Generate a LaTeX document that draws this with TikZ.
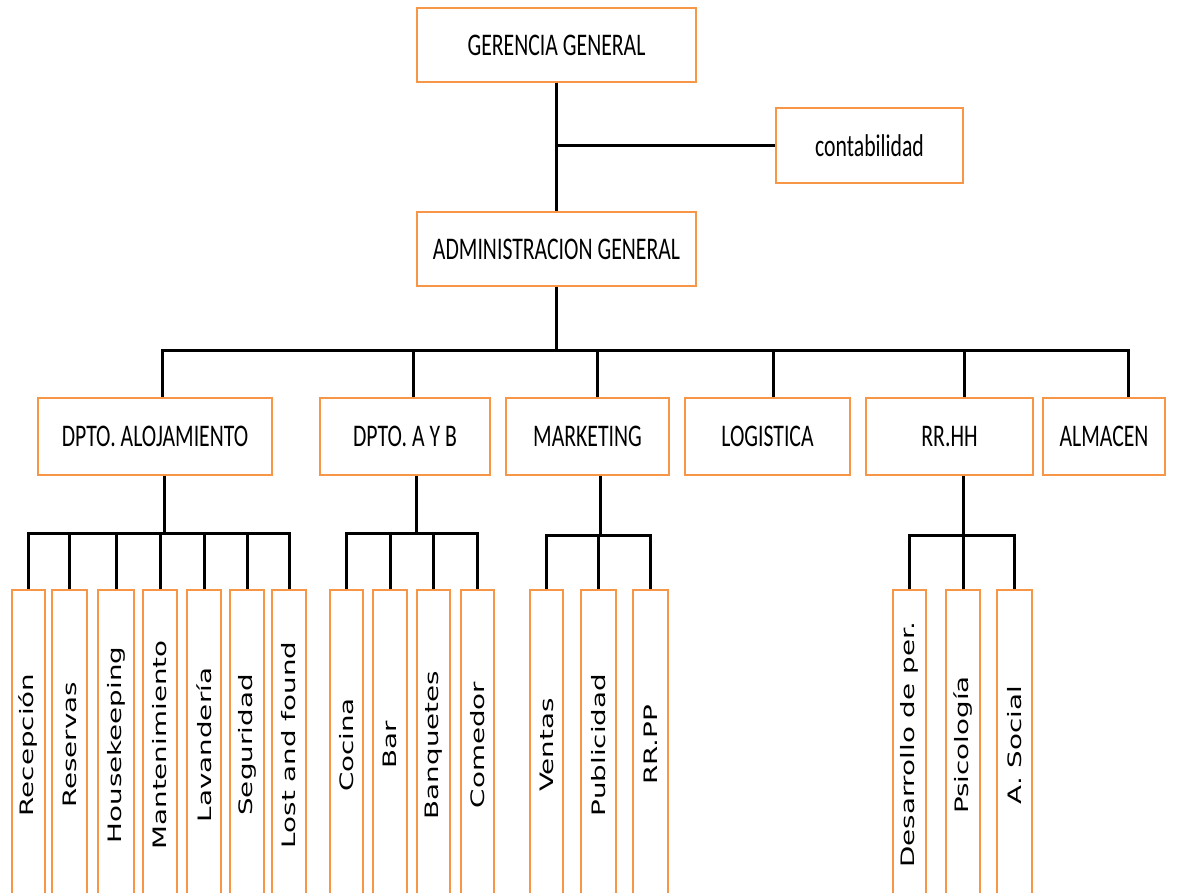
\documentclass[tikz,border=0pt]{standalone}
\usepackage{fontspec}
\newfontfamily\boxfont[FakeStretch=0.69]{Carlito}
\newfontfamily\leaffont[FakeStretch=1.5]{DejaVu Sans}
\usetikzlibrary{calc}
\definecolor{org}{HTML}{F79646}
\begin{document}
\begin{tikzpicture}[x=1pt,y=-1pt,
  box/.style={draw=org, line width=1.6pt, fill=white, inner sep=0pt, font=\boxfont\fontsize{31.5}{36}\selectfont},
  leaf/.style={draw=org, line width=1.6pt, fill=white, inner sep=0pt, minimum height=310pt, font=\leaffont\fontsize{18.5}{22}\selectfont},
  con/.style={line width=3pt, black}]
\clip (0,0) rectangle (1183,892);
\fill[white] (0,0) rectangle (1183,892);

% top
\node[box, minimum width=279pt, minimum height=74pt] (gg) at (556.5,45) {GERENCIA GENERAL};
\node[box, minimum width=187pt, minimum height=75pt] (cont) at (869.5,145.5) {contabilidad};
\node[box, minimum width=279pt, minimum height=74pt] (adm) at (556.5,249) {ADMINISTRACION GENERAL};

% level 2
\node[box, minimum width=234pt, minimum height=77pt] (alo) at (155,436.5) {DPTO. ALOJAMIENTO};
\node[box, minimum width=170pt, minimum height=77pt] (ayb) at (405,436.5) {DPTO. A Y B};
\node[box, minimum width=163pt, minimum height=77pt] (mkt) at (587.5,436.5) {MARKETING};
\node[box, minimum width=165pt, minimum height=77pt] (log) at (767.5,436.5) {LOGISTICA};
\node[box, minimum width=167pt, minimum height=77pt] (rrhh) at (949.5,436.5) {RR.HH};
\node[box, minimum width=122pt, minimum height=77pt] (alm) at (1104,436.5) {ALMACEN};

% leaves
\node[leaf, minimum width=33pt] (rec) at (28.5,745) {\rotatebox{90}{Recepción}};
\node[leaf, minimum width=35pt] (res) at (69.5,745) {\rotatebox{90}{Reservas}};
\node[leaf, minimum width=36pt] (hk) at (116,745) {\rotatebox{90}{Housekeeping}};
\node[leaf, minimum width=34pt] (man) at (160,745) {\rotatebox{90}{Mantenimiento}};
\node[leaf, minimum width=34pt] (lav) at (204,745) {\rotatebox{90}{Lavandería}};
\node[leaf, minimum width=34pt] (seg) at (247,745) {\rotatebox{90}{Seguridad}};
\node[leaf, minimum width=34pt] (lost) at (289,745) {\rotatebox{90}{Lost and found}};

\node[leaf, minimum width=33pt] (coc) at (346.5,745) {\rotatebox{90}{Cocina}};
\node[leaf, minimum width=34pt] (bar) at (390,745) {\rotatebox{90}{Bar}};
\node[leaf, minimum width=33pt] (ban) at (433.5,745) {\rotatebox{90}{Banquetes}};
\node[leaf, minimum width=33pt] (com) at (477.5,745) {\rotatebox{90}{Comedor}};

\node[leaf, minimum width=33pt] (ven) at (546.5,745) {\rotatebox{90}{Ventas}};
\node[leaf, minimum width=35pt] (pub) at (598.5,745) {\rotatebox{90}{Publicidad}};
\node[leaf, minimum width=35pt] (rrpp) at (650.5,745) {\rotatebox{90}{RR.PP}};

\node[leaf, minimum width=33pt] (des) at (909.5,745) {\rotatebox{90}{Desarrollo de per.}};
\node[leaf, minimum width=34pt] (psi) at (963,745) {\rotatebox{90}{Psicología}};
\node[leaf, minimum width=35pt] (soc) at (1014.5,745) {\rotatebox{90}{A. Social}};

% top connectors
\draw[con] (gg.south) -- (adm.north);
\draw[con] (cont.west) -- (cont.west -| gg.south);

% level 1 bus
\coordinate (bus) at (557,350);
\coordinate (d1) at ([xshift=7pt]alo.north);
\coordinate (d2) at ([xshift=8pt]ayb.north);
\coordinate (d3) at ([xshift=9.5pt]mkt.north);
\coordinate (d4) at ([xshift=5.5pt]log.north);
\coordinate (d5) at ([xshift=14.5pt]rrhh.north);
\coordinate (d6) at ([xshift=24pt]alm.north);
\draw[con] (adm.south) -- (adm.south |- bus);
\draw[con] (d1) |- (bus) -| (d6);
\foreach \d in {d2,d3,d4,d5} \draw[con] (\d) -- (\d |- bus);

% alojamiento
\coordinate (ba) at (0,533);
\coordinate (ua) at ([xshift=9pt]alo.south);
\draw[con] (ua) -- (ua |- ba);
\draw[con] (rec.north) |- (lost.north |- ba) -- (lost.north);
\foreach \n in {res,hk,man,lav,seg} \draw[con] (\n.north) -- (\n.north |- ba);

% A y B
\coordinate (ub) at ([xshift=11pt]ayb.south);
\draw[con] (ub) -- (ub |- ba);
\draw[con] (coc.north) |- (com.north |- ba) -- (com.north);
\foreach \n in {bar,ban} \draw[con] (\n.north) -- (\n.north |- ba);

% marketing
\coordinate (bm) at (0,535);
\coordinate (um) at ([xshift=12.5pt]mkt.south);
\draw[con] (um) -- (um |- bm);
\draw[con] (ven.north) |- (rrpp.north |- bm) -- (rrpp.north);
\draw[con] (pub.north) -- (pub.north |- bm);

% RR.HH
\coordinate (uh) at ([xshift=13.5pt]rrhh.south);
\draw[con] (uh) -- (uh |- bm);
\draw[con] (des.north) |- (soc.north |- bm) -- (soc.north);
\draw[con] (psi.north) -- (psi.north |- bm);
\end{tikzpicture}
\end{document}
